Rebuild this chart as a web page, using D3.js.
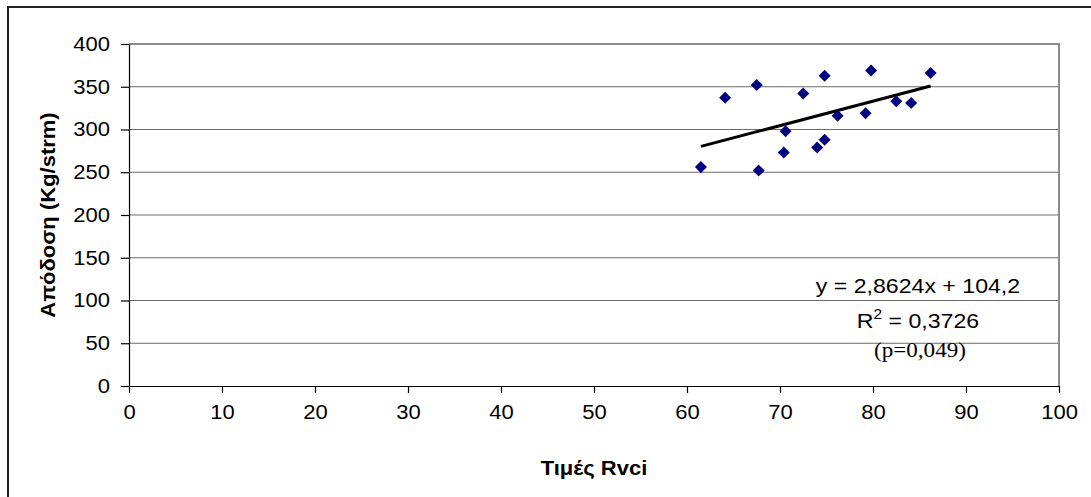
<!DOCTYPE html>
<meta charset="utf-8">
<style>
body { margin: 0; background: #fff; }
text { font-family: "Liberation Sans", Arial, sans-serif; fill: #000; }
.grid line { stroke: #6a6a6a; stroke-width: 1px; }
.axis path, .axis line { stroke: #000; stroke-width: 1.2px; }
.axis text { font-size: 20px; }
.dots path { fill: #000080; }
</style>
<svg width="1091" height="497"></svg>
<script src="https://d3js.org/d3.v7.min.js"></script>
<script>

// data
var rvci  = [61.5, 64.1, 67.5, 67.7, 70.4, 70.6, 72.5, 74.0, 74.8, 74.8, 76.2, 79.2, 79.8, 82.5, 84.1, 86.2];
var yield_ = [256, 337, 352, 252, 273, 298, 342, 279, 288, 363, 316, 319, 369, 333, 331, 366];
var xTicks = [0, 10, 20, 30, 40, 50, 60, 70, 80, 90, 100];
var yTicks = [0, 50, 100, 150, 200, 250, 300, 350, 400];
var slope = 2.8624, intercept = 104.2;

var svg = d3.select("svg");
var stretch = 1.1;

// outer chart frame (runs off the right and bottom edges)
svg.append("rect")
    .attr("x", 8).attr("y", 7)
    .attr("width", 1200).attr("height", 600)
    .attr("fill", "none").attr("stroke", "#222").attr("stroke-width", 2);

var x = d3.scaleLinear().domain([0, 100]).range([129, 1059]);
var y = d3.scaleLinear().domain([0, 400]).range([386, 44]);

// horizontal gridlines
svg.append("g").attr("class", "grid")
  .selectAll("line")
  .data(yTicks.filter(function(d) { return d > 0 && d < 400; }))
  .enter().append("line")
    .attr("x1", x(0)).attr("x2", x(100))
    .attr("y1", function(d) { return y(d); })
    .attr("y2", function(d) { return y(d); });

// top and right edges of plot area
svg.append("path")
    .attr("d", "M" + x(0) + "," + y(400) + "H" + x(100) + "V" + y(0))
    .attr("fill", "none").attr("stroke", "#8c8c8c").attr("stroke-width", 2);

var xAxis = svg.append("g").attr("class", "axis")
    .attr("transform", "translate(0," + y(0) + ")")
    .call(d3.axisBottom(x).tickValues(xTicks).tickSize(7).tickSizeOuter(0).tickPadding(10));

var yAxis = svg.append("g").attr("class", "axis")
    .attr("transform", "translate(" + x(0) + ",0)")
    .call(d3.axisLeft(y).tickValues(yTicks).tickSize(8).tickSizeOuter(0).tickPadding(11));

xAxis.selectAll("text").attr("dy", "0.71em").attr("y", 19);

// trendline
var xr = d3.extent(rvci);
svg.append("line")
    .attr("x1", x(xr[0])).attr("y1", y(slope * xr[0] + intercept))
    .attr("x2", x(xr[1])).attr("y2", y(slope * xr[1] + intercept))
    .attr("stroke", "#000").attr("stroke-width", 3);

// markers
var diamond = d3.symbol().type(d3.symbolDiamond2).size(92);
svg.append("g").attr("class", "dots")
  .selectAll("path")
  .data(rvci)
  .enter().append("path")
    .attr("d", diamond)
    .attr("transform", function(d, i) { return "translate(" + x(d) + "," + y(yield_[i]) + ")"; });

// axis titles
svg.append("text")
    .attr("x", (x(0) + x(100)) / 2).attr("y", 475)
    .attr("text-anchor", "middle")
    .style("font-size", "20px").style("font-weight", "bold")
    .text("Τιμές Rvci");

svg.append("text")
    .attr("transform", "translate(55," + (y(0) + y(400)) / 2 + ") rotate(-90)")
    .attr("text-anchor", "middle")
    .style("font-size", "20px").style("font-weight", "bold")
    .text("Απόδοση (Kg/strm)");

// regression annotation
var eq = svg.append("g").attr("class", "eq");
eq.append("text")
    .attr("x", 918).attr("y", 293)
    .attr("text-anchor", "middle").style("font-size", "21px")
    .text("y = 2,8624x + 104,2");
var r2 = eq.append("text")
    .attr("x", 918).attr("y", 328)
    .attr("text-anchor", "middle").style("font-size", "21px");
r2.append("tspan").text("R");
r2.append("tspan").attr("dy", -9).style("font-size", "14px").text("2");
r2.append("tspan").attr("dy", 9).text(" = 0,3726");
eq.append("text")
    .attr("x", 920).attr("y", 357)
    .attr("text-anchor", "middle")
    .style("font-family", "'Liberation Serif', 'Times New Roman', serif")
    .style("font-size", "21px")
    .text("(p=0,049)");

// the picture's text is a little wider than plain Arial
svg.selectAll("text").each(function() {
  var w = this.getComputedTextLength();
  d3.select(this).attr("textLength", w * stretch).attr("lengthAdjust", "spacingAndGlyphs");
});

</script>
